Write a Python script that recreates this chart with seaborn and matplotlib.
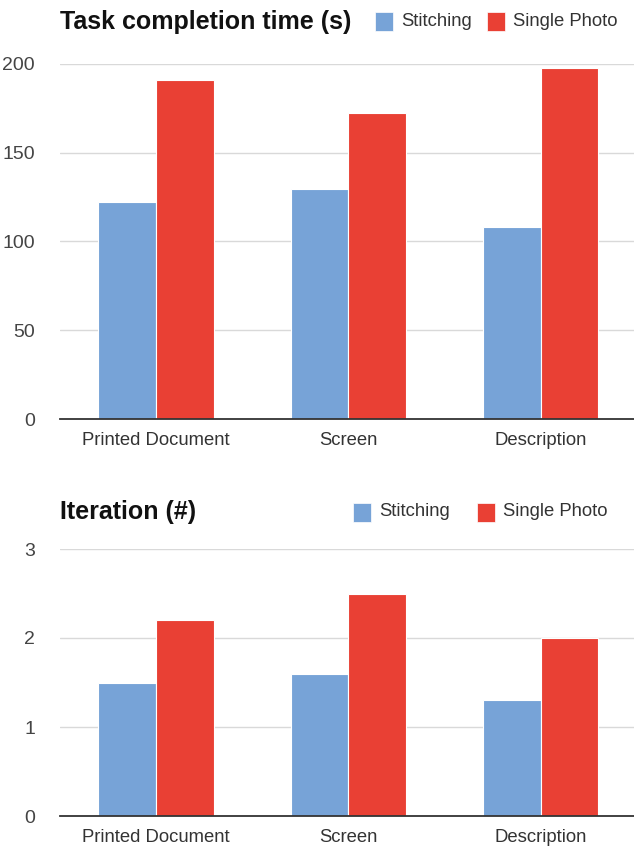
import numpy as np
import pandas as pd
import matplotlib
matplotlib.use("Agg")
import matplotlib.pyplot as plt
import matplotlib.patches as mpatches
import seaborn as sns

# data
categories = ["Printed Document", "Screen", "Description"]
methods = ["Stitching", "Single Photo"]
time_stitching = [122, 129.5, 108]
time_single = [191, 172.5, 198]
iter_stitching = [1.5, 1.6, 1.3]
iter_single = [2.2, 2.5, 2.0]
time_ticks = [0, 50, 100, 150, 200]
iter_ticks = [0, 1, 2, 3]

colors = {"Stitching": "#77A3D7", "Single Photo": "#E94034"}

sns.set_theme(style="white")
plt.rcParams["font.family"] = ["Liberation Sans", "DejaVu Sans"]


def long_df(a, b):
    return pd.DataFrame({
        "category": categories * 2,
        "method": [methods[0]] * 3 + [methods[1]] * 3,
        "value": list(a) + list(b),
    })


fig = plt.figure(figsize=(6.34, 8.46), dpi=100)
W, H = 634, 846
ax_left = 60 / W
ax_w = (634 - 60) / W
ax1 = fig.add_axes([ax_left, 1 - 419 / H, ax_w, (419 - 64) / H])
ax2 = fig.add_axes([ax_left, 1 - 816 / H, ax_w, (816 - 549) / H])

# (axes, data, ticks, title, title y px, legend square centres px)
panels = [
    (ax1, long_df(time_stitching, time_single), time_ticks,
     "Task completion time (s)", 22, (384, 496)),
    (ax2, long_df(iter_stitching, iter_single), iter_ticks,
     "Iteration (#)", 512, (362, 486)),
]

for ax, df, ticks, title, ty, lx in panels:
    sns.barplot(data=df, x="category", y="value", hue="method",
                palette=colors, width=0.6, saturation=1, ax=ax, legend=False,
                edgecolor="white", linewidth=0.8, errorbar=None)
    ax.set_xlim(-0.5, 2.485)
    ax.set_ylim(ticks[0], ticks[-1])
    ax.set_yticks(ticks)
    ax.set_yticklabels([str(t) for t in ticks])
    ax.set_xlabel("")
    ax.set_ylabel("")
    ax.grid(True, axis="y", color="#D9D9D9", lw=1.0)
    ax.set_axisbelow(True)
    for s in ["top", "right", "left"]:
        ax.spines[s].set_visible(False)
    ax.spines["bottom"].set_color("#333333")
    ax.spines["bottom"].set_linewidth(1.3)
    ax.spines["bottom"].set_zorder(5)
    ax.tick_params(axis="y", length=0, pad=18, labelsize=14, labelcolor="#444444")
    ax.tick_params(axis="x", length=0, pad=9, labelsize=13.3, labelcolor="#333333")

    fig.text(60 / W, 1 - ty / H, title, fontsize=18, fontweight="bold",
             color="#111111", va="center", ha="left")
    # legend squares and labels
    for m, cx in zip(methods, lx):
        fig.patches.append(mpatches.Rectangle(
            ((cx - 9) / W, 1 - (ty + 9.5) / H), 18 / W, 19 / H,
            transform=fig.transFigure, facecolor=colors[m],
            edgecolor="white", lw=0.5))
        fig.text((cx + 17) / W, 1 - ty / H, m, fontsize=13.3,
                 color="#333333", va="center", ha="left")

fig.savefig("out.png", dpi=100)
